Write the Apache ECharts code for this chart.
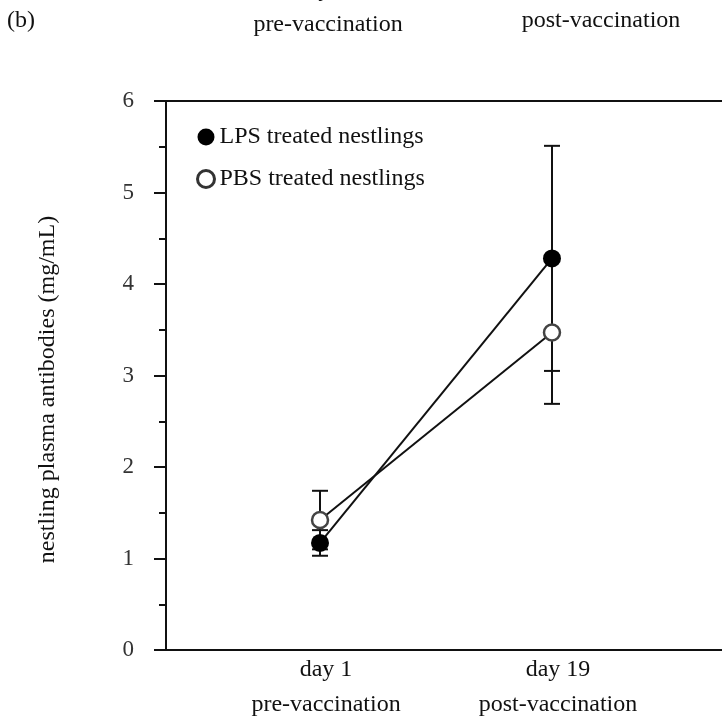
<!DOCTYPE html>
<html>
<head>
<meta charset="utf-8">
<script src="https://cdn.jsdelivr.net/npm/echarts@6/dist/echarts.min.js"></script>
<style>
  html, body { margin: 0; padding: 0; background: #fff; }
  #chart { width: 722px; height: 723px; }
</style>
</head>
<body>
<div id="chart"></div>
<script>
// Sampling occasions (x positions are the indices 0 and 1)
const categories = ['day 1\npre-vaccination', 'day 19\npost-vaccination'];
const yTicks = [0, 1, 2, 3, 4, 5, 6];

// Plasma antibody means and error half-widths (mg/mL)
const lpsMean = [1.17, 4.28];
const lpsErr = [0.14, 1.23];
const pbsMean = [1.42, 3.47];
const pbsErr = [0.32, 0.78];

const seriesNames = ['LPS treated nestlings', 'PBS treated nestlings'];

const serif = '"Liberation Serif", "DejaVu Serif", serif';

function errorData(means, errs) {
  return means.map((m, i) => [i, m - errs[i], m + errs[i]]);
}

function errorSeries(means, errs, z) {
  return {
    type: 'custom',
    z: z,
    silent: true,
    data: errorData(means, errs),
    encode: { x: 0, y: [1, 2] },
    renderItem: function (params, api) {
      const x = api.value(0);
      const lo = api.coord([x, api.value(1)]);
      const hi = api.coord([x, api.value(2)]);
      const half = 8;
      const style = { stroke: '#111', lineWidth: 2 };
      return {
        type: 'group',
        children: [
          { type: 'line', shape: { x1: lo[0], y1: lo[1], x2: hi[0], y2: hi[1] }, style: style },
          { type: 'line', shape: { x1: lo[0] - half, y1: lo[1], x2: lo[0] + half, y2: lo[1] }, style: style },
          { type: 'line', shape: { x1: hi[0] - half, y1: hi[1], x2: hi[0] + half, y2: hi[1] }, style: style }
        ]
      };
    }
  };
}

const chart = echarts.init(document.getElementById('chart'), null, { renderer: 'canvas' });

chart.setOption({
  backgroundColor: '#fff',
  animation: false,
  textStyle: { fontFamily: serif, color: '#111' },
  grid: { left: 166, top: 101, right: 0, bottom: 73, outerBoundsMode: 'none', containLabel: false },
  legend: {
    orient: 'vertical',
    left: 191,
    top: 119,
    itemWidth: 17,
    itemHeight: 17,
    itemGap: 16,
    textStyle: { fontFamily: serif, fontSize: 24, lineHeight: 26, color: '#111' },
    data: [
      { name: seriesNames[0], icon: 'circle', itemStyle: { color: '#000', borderWidth: 0 } },
      { name: seriesNames[1], icon: 'circle', itemStyle: { color: '#fff', borderColor: '#333', borderWidth: 3 } }
    ]
  },
  xAxis: [
    {
      type: 'value',
      min: -0.664,
      max: 1.733,
      splitLine: { show: false },
      axisLine: { show: true, onZero: false, lineStyle: { color: '#111', width: 2 } },
      axisTick: { show: false },
      axisLabel: {
        customValues: [0, 1],
        formatter: v => categories[Math.round(v)] || '',
        fontFamily: serif,
        fontSize: 24,
        lineHeight: 35,
        color: '#111',
        margin: 2,
        padding: [0, 0, 0, 12]
      }
    },
    {
      type: 'value',
      position: 'top',
      min: -0.664,
      max: 1.733,
      splitLine: { show: false },
      axisLine: { show: true, onZero: false, lineStyle: { color: '#111', width: 2 } },
      axisTick: { show: false },
      axisLabel: { show: false }
    }
  ],
  yAxis: {
    type: 'value',
    min: yTicks[0],
    max: yTicks[yTicks.length - 1],
    interval: 1,
    name: 'nestling plasma antibodies (mg/mL)',
    nameLocation: 'middle',
    nameGap: 106,
    nameTextStyle: { fontFamily: serif, fontSize: 24, color: '#111', padding: [0, 28, 0, 0] },
    splitLine: { show: false },
    axisLine: { show: true, onZero: false, lineStyle: { color: '#111', width: 2 } },
    axisTick: { show: true, length: 12, lineStyle: { color: '#111', width: 2 } },
    minorTick: { show: true, splitNumber: 2, length: 7, lineStyle: { color: '#111', width: 2 } },
    axisLabel: { fontFamily: serif, fontSize: 23, color: '#333', margin: 32, padding: [12, 0, 0, 0] }
  },
  series: [
    errorSeries(pbsMean, pbsErr, 2),
    errorSeries(lpsMean, lpsErr, 2),
    {
      name: seriesNames[0],
      type: 'line',
      z: 4,
      data: lpsMean.map((v, i) => [i, v]),
      symbol: 'circle',
      symbolSize: 18,
      lineStyle: { color: '#111', width: 2 },
      itemStyle: { color: '#000', borderColor: '#000', borderWidth: 0 }
    },
    {
      name: seriesNames[1],
      type: 'line',
      z: 5,
      data: pbsMean.map((v, i) => [i, v]),
      symbol: 'circle',
      symbolSize: 16,
      lineStyle: { color: '#111', width: 2 },
      itemStyle: { color: '#fff', borderColor: '#444', borderWidth: 2.5 }
    }
  ],
  graphic: [
    { type: 'text', left: 7, top: 9, style: { text: '(b)', font: '24px ' + serif, fill: '#111' } },
    { type: 'text', x: 328, y: -28, style: { text: 'day 12\npre-vaccination', font: '24px ' + serif, lineHeight: 35, fill: '#111', align: 'center' } },
    { type: 'text', x: 601, y: -32, style: { text: 'day 19\npost-vaccination', font: '24px ' + serif, lineHeight: 35, fill: '#111', align: 'center' } }
  ]
});
</script>
</body>
</html>
